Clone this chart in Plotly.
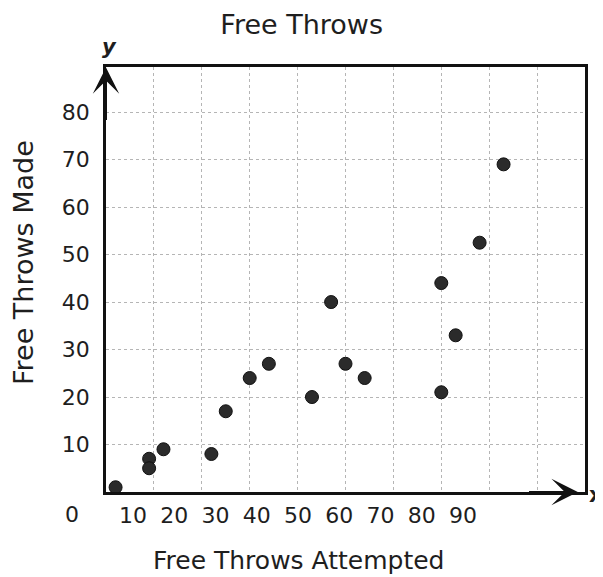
import plotly.graph_objects as go

# Free throws attempted (x) and made (y)
ATTEMPTED = [2, 9, 9, 12, 22, 25, 30, 34, 43, 47, 50, 54, 70, 70, 73, 78, 83]
MADE = [1, 7, 5, 9, 8, 17, 24, 27, 20, 40, 27, 24, 44, 21, 33, 52.5, 69]

X_TICKS = [10, 20, 30, 40, 50, 60, 70, 80, 90]
Y_TICKS = [10, 20, 30, 40, 50, 60, 70, 80]

FONT = "DejaVu Sans, Verdana, sans-serif"
INK = "#1e1e1e"
GRID = "#b5b5b5"

# the page body adds an 8px offset, so margins are shifted to compensate
fig = go.Figure()

fig.add_trace(go.Scatter(
    x=ATTEMPTED,
    y=MADE,
    mode="markers",
    marker=dict(color="#2b2b2b", size=13, line=dict(width=1, color="#111")),
    showlegend=False,
))

# empty trace so the label axis (x2) is drawn
fig.add_trace(go.Scatter(x=[], y=[], xaxis="x2", yaxis="y", showlegend=False))

# axis arrows
fig.add_annotation(x=0, y=89.4, ax=0, ay=78, xref="x", yref="y", axref="x", ayref="y",
                   showarrow=True, arrowhead=3, arrowsize=2.2, arrowwidth=2, arrowcolor="#111", text="")
fig.add_annotation(x=98.5, y=0, ax=88, ay=0, xref="x", yref="y", axref="x", ayref="y",
                   showarrow=True, arrowhead=3, arrowsize=2.2, arrowwidth=2, arrowcolor="#111", text="")

fig.add_annotation(x=0.008, y=1.047, xref="paper", yref="paper", text="<b><i>y</i></b>",
                   xanchor="center", yanchor="middle",
                   showarrow=False, font=dict(family=FONT, size=21, color=INK))
fig.add_annotation(x=1.023, y=-0.007, xref="paper", yref="paper", text="<b>x</b>",
                   xanchor="center", yanchor="middle",
                   showarrow=False, font=dict(family=FONT, size=21, color=INK))
fig.add_annotation(x=-0.071, y=-0.054, xref="paper", yref="paper", text="0",
                   xanchor="center", yanchor="middle",
                   showarrow=False, font=dict(family=FONT, size=22, color=INK))

# axis titles sit off-centre in the reference, so they are placed as annotations
fig.add_annotation(x=0.401, y=-0.162, xref="paper", yref="paper", text="Free Throws Attempted",
                   xanchor="center", yanchor="middle",
                   showarrow=False, font=dict(family=FONT, size=25, color=INK))
fig.add_annotation(x=-0.171, y=0.539, xref="paper", yref="paper", text="Free Throws Made",
                   textangle=-90, xanchor="center", yanchor="middle",
                   showarrow=False, font=dict(family=FONT, size=27, color=INK))

fig.update_layout(
    width=603,
    height=577,
    margin=dict(l=98, r=26, t=59, b=93),
    plot_bgcolor="white",
    paper_bgcolor="white",
    font=dict(family=FONT, color=INK),
    title=dict(text="Free Throws", x=0.487, xanchor="center", y=0.972, yanchor="middle",
               font=dict(family=FONT, size=27, color=INK)),
    xaxis=dict(
        range=[0, 100],
        tickvals=X_TICKS,
        showticklabels=False,
        showgrid=True, gridcolor=GRID, griddash="dot", gridwidth=1,
        zeroline=False,
        showline=True, mirror=True, linecolor="#111", linewidth=2.5,
    ),
    xaxis2=dict(
        overlaying="x",
        anchor="y",
        side="bottom",
        range=[3.45, 119.6],
        tickvals=X_TICKS,
        ticktext=[str(v) for v in X_TICKS],
        tickfont=dict(family=FONT, size=22, color=INK),
        ticklabelstandoff=8,
        showgrid=False, zeroline=False, showline=False,
    ),
    yaxis=dict(
        range=[0, 89.5],
        tickvals=Y_TICKS,
        tickfont=dict(family=FONT, size=22, color=INK),
        ticklabelstandoff=9,
        showgrid=True, gridcolor=GRID, griddash="dot", gridwidth=1,
        zeroline=False,
        showline=True, mirror=True, linecolor="#111", linewidth=2.5,
    ),
)

fig.write_html("out.html")
